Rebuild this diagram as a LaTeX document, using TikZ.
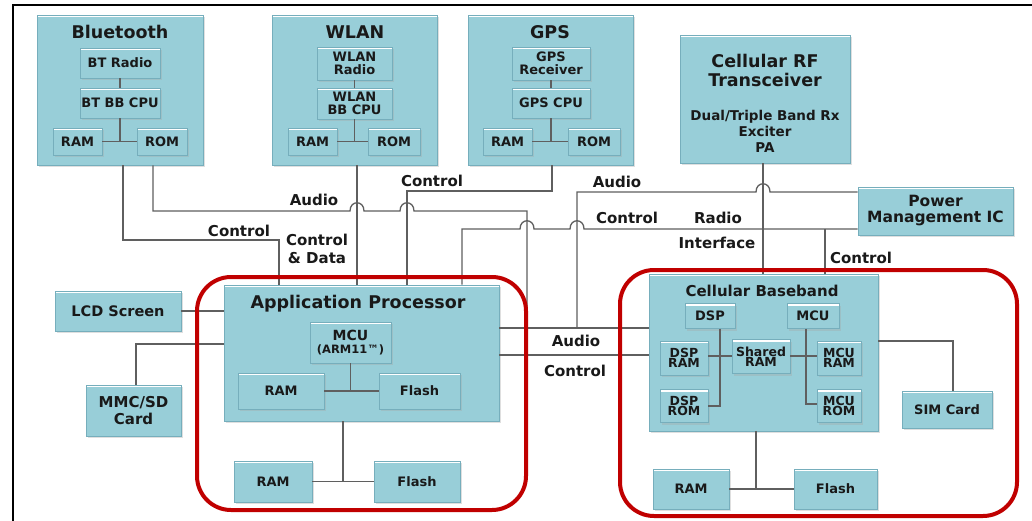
\documentclass[tikz,border=0pt]{standalone}
\usepackage{fontspec}
\setmainfont{DejaVu Sans}
\usetikzlibrary{shadows,calc}
\definecolor{boxfill}{RGB}{152,206,216}
\definecolor{boxline}{RGB}{118,174,188}
\definecolor{wire}{RGB}{95,95,95}
\definecolor{redline}{RGB}{192,0,0}
\definecolor{ink}{RGB}{25,25,25}
\begin{document}
\begin{tikzpicture}[x=1pt,y=-1pt,
  blk/.style={draw=boxline, line width=0.8pt, fill=boxfill, inner sep=0pt, align=center, text=ink,
    font=\fontsize{13}{13.5}\selectfont\bfseries,
    general shadow={fill=black!35, opacity=0.35, shadow xshift=1.5pt, shadow yshift=-2pt},
    path picture={\draw[white, line width=1.6pt] ([yshift=-1.3pt]path picture bounding box.north west) -- ([yshift=-1.3pt]path picture bounding box.north east);}},
  outer/.style={blk},
  small/.style={blk, font=\fontsize{12.5}{10.5}\selectfont\bfseries},
  ttl/.style={inner sep=0pt, align=center, text=ink, font=\fontsize{17.5}{19}\selectfont\bfseries},
  sub/.style={inner sep=0pt, align=center, text=ink, font=\fontsize{13.5}{16}\selectfont\bfseries},
  lbl/.style={inner sep=0pt, align=center, text=ink, font=\fontsize{15}{18}\selectfont\bfseries},
  wire/.style={draw=wire, line width=1.3pt},
  redframe/.style={draw=redline, line width=4pt, rounded corners=34pt, inner sep=0pt}
]
\useasboundingbox (0,0) rectangle (1032,521);
\fill[white] (0,0) rectangle (1032,521);

% ---------- containers ----------
\node[outer, minimum width=166pt, minimum height=150pt] (bt) at (120,90) {};
\node[outer, minimum width=165pt, minimum height=150pt] (wlan) at (354.5,90) {};
\node[outer, minimum width=165pt, minimum height=150pt] (gps) at (550.5,90) {};
\node[outer, minimum width=170pt, minimum height=128pt] (rf) at (765,99) {};
\node[blk, font=\fontsize{15.5}{16}\selectfont\bfseries, minimum width=155pt, minimum height=48pt] (pm) at (935.5,211) {Power\\Management IC};
\node[blk, font=\fontsize{14.5}{16}\selectfont\bfseries, minimum width=126pt, minimum height=40pt] (lcd) at (118,311) {LCD Screen};
\node[blk, font=\fontsize{15}{17}\selectfont\bfseries, minimum width=95pt, minimum height=51pt] (mmc) at (133.5,410.5) {MMC/SD\\Card};
\node[outer, minimum width=275pt, minimum height=136pt] (ap) at (361.5,353) {};
\node[outer, minimum width=229pt, minimum height=157pt] (cb) at (763.5,352.5) {};
\node[blk, minimum width=90pt, minimum height=37pt] (sim) at (947,409.5) {SIM Card};

% ---------- titles ----------
\node[ttl] (btT) at (120,32) {Bluetooth};
\node[ttl] (wlanT) at (355,32) {WLAN};
\node[ttl] (gpsT) at (550,32) {GPS};
\node[ttl] (rfT) at (765,70) {Cellular RF\\Transceiver};
\node[sub] (rfS) at (765,131) {Dual/Triple Band Rx\\Exciter\\PA};
\node[ttl] (apT) at (358,304) {Application Processor};
\node[ttl, font=\fontsize{15}{17}\selectfont\bfseries] (cbT) at (762,291) {Cellular Baseband};

% ---------- Bluetooth ----------
\node[blk, minimum width=80pt, minimum height=30pt] (btradio) at (120,63) {BT Radio};
\node[blk, minimum width=80pt, minimum height=30pt] (btcpu) at (120,103) {BT BB CPU};
\node[blk, minimum width=49pt, minimum height=27pt] (btram) at (77.5,141.5) {RAM};
\node[blk, minimum width=50pt, minimum height=27pt] (btrom) at (162,141.5) {ROM};
% ---------- WLAN ----------
\node[blk, minimum width=75pt, minimum height=33pt] (wlradio) at (354.5,63.5) {WLAN\\Radio};
\node[blk, minimum width=75pt, minimum height=31pt] (wlcpu) at (354.5,103.5) {WLAN\\BB CPU};
\node[blk, minimum width=49pt, minimum height=27pt] (wlram) at (312.5,141.5) {RAM};
\node[blk, minimum width=52pt, minimum height=27pt] (wlrom) at (394,141.5) {ROM};
% ---------- GPS ----------
\node[blk, minimum width=78pt, minimum height=33pt] (gpsrx) at (551,63.5) {GPS\\Receiver};
\node[blk, minimum width=78pt, minimum height=30pt] (gpscpu) at (551,103) {GPS CPU};
\node[blk, minimum width=49pt, minimum height=27pt] (gpsram) at (507.5,141.5) {RAM};
\node[blk, minimum width=52pt, minimum height=27pt] (gpsrom) at (594,141.5) {ROM};
% ---------- Application processor ----------
\node[blk, minimum width=81pt, minimum height=41pt] (apmcu) at (350.5,342.5) {{\fontsize{14}{15}\selectfont MCU}\\[0pt]{\fontsize{11.5}{12}\selectfont (ARM11™)}};
\node[blk, minimum width=86pt, minimum height=36pt] (apram) at (281,391) {RAM};
\node[blk, minimum width=81pt, minimum height=36pt] (apflash) at (419.5,391) {Flash};
\node[blk, minimum width=78pt, minimum height=41pt] (apxram) at (273,481.5) {RAM};
\node[blk, minimum width=86pt, minimum height=41pt] (apxflash) at (417,481.5) {Flash};
% ---------- Cellular baseband ----------
\node[blk, minimum width=50pt, minimum height=25pt] (dsp) at (710,316) {DSP};
\node[blk, minimum width=52pt, minimum height=25pt] (mcu) at (813,316) {MCU};
\node[small, minimum width=48pt, minimum height=34pt] (dspram) at (684,358) {DSP\\RAM};
\node[small, minimum width=48pt, minimum height=33pt] (dsprom) at (684,406) {DSP\\ROM};
\node[small, minimum width=58pt, minimum height=34pt] (shram) at (761,356.5) {Shared\\RAM};
\node[small, minimum width=44pt, minimum height=34pt] (mcuram) at (839,358) {MCU\\RAM};
\node[small, minimum width=44pt, minimum height=33pt] (mcurom) at (839,406) {MCU\\ROM};
\node[blk, minimum width=76pt, minimum height=40pt] (cbram) at (691,489) {RAM};
\node[blk, minimum width=83pt, minimum height=40pt] (cbflash) at (835.5,489) {Flash};

% ---------- internal wires ----------
\draw[wire] (btradio.south) -- (btcpu.north);
\draw[wire] (btcpu.south) -- (btcpu.south |- btram.east);
\draw[wire] (btram.east) -- (btrom.west);
\draw[wire] (wlradio.south) -- (wlcpu.north);
\draw[wire] (wlcpu.south) -- (wlcpu.south |- wlram.east);
\draw[wire] (wlram.east) -- (wlrom.west);
\draw[wire] (gpsrx.south) -- (gpscpu.north);
\draw[wire] (gpscpu.south) -- (gpscpu.south |- gpsram.east);
\draw[wire] (gpsram.east) -- (gpsrom.west);
\draw[wire] (apmcu.south) -- (apmcu.south |- apram.east);
\draw[wire] (apram.east) -- (apflash.west);
\draw[wire] (ap.south -| 343,0) -- (343,481.5);
\draw[wire] (apxram.east) -- (apxflash.west);
\draw[wire, line width=1.1pt] (dsp.south -| 720,0) -- (720,406) -- (dsprom.east |- 0,406);
\draw[wire, line width=1.1pt] (dspram.east |- 0,356) -- (shram.west |- 0,356);
\draw[wire, line width=1.1pt] (mcu.south -| 806,0) -- (806,404) -- (mcurom.west |- 0,404);
\draw[wire, line width=1.1pt] (shram.east |- 0,356) -- (mcuram.west |- 0,356);
\draw[wire] (cb.south -| 756,0) -- (756,489);
\draw[wire] (cbram.east) -- (cbflash.west);

% ---------- system wires ----------
\coordinate (audj1) at (527,328);
\coordinate (audj2) at (577,328);
\coordinate (pmj) at (825,229);
% BT control
\draw[wire] (bt.south -| 123,0) -- (123,240) -- (279,240) -- (ap.north -| 279,0);
% BT audio
\draw[wire] (bt.south -| 153,0) -- (153,211) -- (350,211)
  .. controls (350,200) and (364,200) .. (364,211) -- (400,211)
  .. controls (400,200) and (414,200) .. (414,211) -- (527,211) -- (audj1);
% WLAN control & data
\draw[wire] (wlan.south -| 357,0) -- (ap.north -| 357,0);
% GPS control
\draw[wire] (gps.south -| 552,0) -- (552,191) -- (407,191) -- (ap.north -| 407,0);
% PM audio
\draw[wire] (pm.west |- 0,192) -- (770,192)
  .. controls (770,181) and (756,181) .. (756,192) -- (577,192) -- (audj2);
% PM control
\draw[wire] (pm.west |- 0,229) -- (584,229)
  .. controls (584,218) and (570,218) .. (570,229) -- (534,229)
  .. controls (534,218) and (520,218) .. (520,229) -- (462,229) -- (ap.north -| 462,0);
\draw[wire] (pmj) -- (cb.north -| pmj);
% RF
\draw[wire] (rf.south -| 763,0) -- (cb.north -| 763,0);
% buses
\draw[wire] (ap.east |- audj1) -- (cb.west |- audj1);
\draw[wire] (ap.east |- 0,355) -- (cb.west |- 0,355);
% LCD, MMC
\draw[wire] (lcd.east) -- (ap.west |- lcd.east);
\draw[wire] (mmc.north -| 136,0) -- (136,344) -- (ap.west |- 0,344);
% SIM
\draw[wire] (cb.east |- 0,341) -- (953,341) -- (sim.north -| 953,0);

% ---------- labels ----------
\node[lbl] (l1) at (314,200) {Audio};
\node[lbl] (l2) at (432,181) {Control};
\node[lbl] (l3) at (617,182) {Audio};
\node[lbl] (l4) at (239,231) {Control};
\node[lbl] (l5) at (317,249) {Control\\\& Data};
\node[lbl] (l6) at (627,218) {Control};
\node[lbl] (l7) at (718,218) {Radio};
\node[lbl] (l8) at (717,243) {Interface};
\node[lbl] (l9) at (861,258) {Control};
\node[lbl] (l10) at (576,341) {Audio};
\node[lbl] (l11) at (575,371) {Control};

% ---------- red frames ----------
\node[redframe, minimum width=329pt, minimum height=233pt] (apframe) at (361.5,393.5) {};
\node[redframe, minimum width=397pt, minimum height=246pt] (cbframe) at (818.5,393) {};

% ---------- outer border ----------
\draw[line width=1.8pt, black] (13,521) -- (13,5) -- (1032,5);
\end{tikzpicture}
\end{document}
